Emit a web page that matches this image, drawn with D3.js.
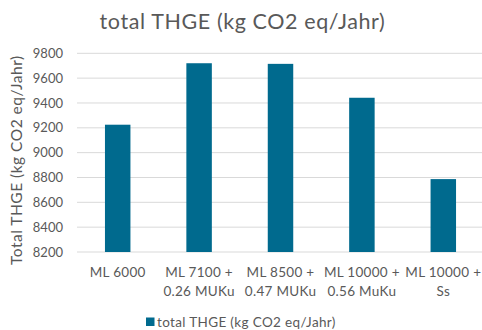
<!DOCTYPE html>
<html>
<head>
<meta charset="utf-8">
<script src="https://cdn.jsdelivr.net/npm/d3@7"></script>
<style>
  html, body { margin: 0; padding: 0; background: #fff; }
  svg { display: block; font-family: Lato, "Open Sans", sans-serif; }
</style>
</head>
<body>
<svg id="chart" width="482" height="330"></svg>
<script>
// Categories (two-line labels) and yearly totals
const categories = ["ML 6000", "ML 7100 + 0.26 MUKu", "ML 8500 + 0.47 MUKu", "ML 10000 + 0.56 MuKu", "ML 10000 + Ss"];
const labelLines = [["ML 6000"], ["ML 7100 +", "0.26 MUKu"], ["ML 8500 +", "0.47 MUKu"], ["ML 10000 +", "0.56 MuKu"], ["ML 10000 +", "Ss"]];
const values = [9225, 9720, 9715, 9442, 8787];
const yTicks = [8200, 8400, 8600, 8800, 9000, 9200, 9400, 9600, 9800];
const seriesName = "total THGE (kg CO2 eq/Jahr)";
const chartTitle = "total THGE (kg CO2 eq/Jahr)";
const yAxisTitle = "Total THGE (kg CO2 eq/Jahr)";

const svg = d3.select("#chart");
const barColor = "#006a8e";
const textColor = "#595959";

const x = d3.scaleBand()
  .domain(categories)
  .range([77, 484])
  .paddingInner(0.687)
  .paddingOuter(0.3435);

const y = d3.scaleLinear()
  .domain([8200, 9800])
  .range([252, 53.3]);

// Title
svg.append("text")
  .attr("x", 242.5).attr("y", 29)
  .attr("text-anchor", "middle")
  .attr("font-size", 21.5)
  .attr("letter-spacing", 0.6)
  .attr("fill", textColor)
  .text(chartTitle);

// Horizontal gridlines
svg.append("g")
  .selectAll("line")
  .data(yTicks)
  .join("line")
  .attr("x1", 77).attr("x2", 484)
  .attr("y1", d => y(d)).attr("y2", d => y(d))
  .attr("stroke", "#d9d9d9")
  .attr("stroke-width", 1);

// Y axis tick labels
const yAxis = d3.axisLeft(y).tickValues(yTicks).tickSize(0).tickPadding(0).tickFormat(d3.format("d"));
const yg = svg.append("g").attr("transform", "translate(63,0)").call(yAxis);
yg.select(".domain").remove();
yg.selectAll("text")
  .attr("font-size", 13)
  .attr("font-family", "Lato, 'Open Sans', sans-serif")
  .attr("fill", textColor);

// Y axis title
svg.append("text")
  .attr("transform", "translate(22,265) rotate(-90)")
  .attr("text-anchor", "start")
  .attr("font-size", 15.5)
  .attr("letter-spacing", 0.5)
  .attr("fill", textColor)
  .text(yAxisTitle);

// Bars
svg.append("g")
  .selectAll("rect")
  .data(values)
  .join("rect")
  .attr("x", (d, i) => x(categories[i]))
  .attr("width", x.bandwidth())
  .attr("y", d => y(d))
  .attr("height", d => y(8200) - y(d))
  .attr("fill", barColor);

// Category labels
const xl = svg.append("g");
labelLines.forEach((lines, i) => {
  const t = xl.append("text")
    .attr("x", x(categories[i]) + x.bandwidth() / 2)
    .attr("y", 277)
    .attr("text-anchor", "middle")
    .attr("font-size", 13.5)
    .attr("letter-spacing", 0.3)
    .attr("fill", textColor);
  lines.forEach((ln, j) => {
    t.append("tspan")
      .attr("x", x(categories[i]) + x.bandwidth() / 2)
      .attr("dy", j === 0 ? 0 : 19)
      .text(ln);
  });
});

// Legend
svg.append("rect")
  .attr("x", 146).attr("y", 317.5)
  .attr("width", 8.5).attr("height", 8.5)
  .attr("fill", barColor);
svg.append("text")
  .attr("x", 157).attr("y", 326.5)
  .attr("font-size", 13.5)
  .attr("letter-spacing", 0.35)
  .attr("fill", textColor)
  .text(seriesName);
</script>
</body>
</html>
